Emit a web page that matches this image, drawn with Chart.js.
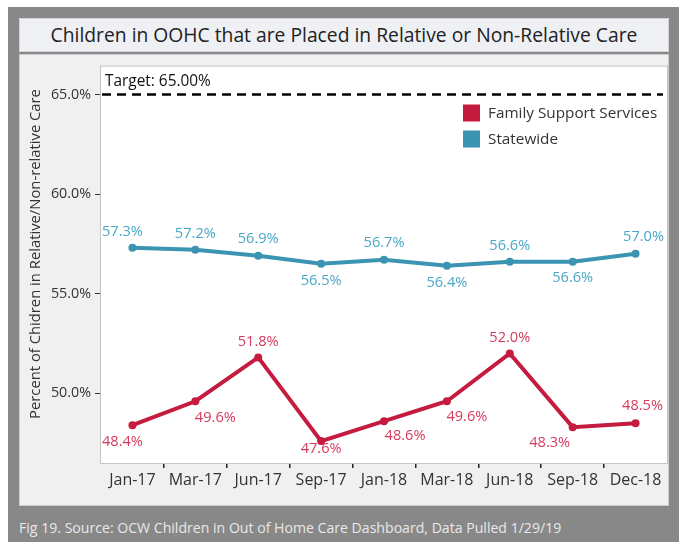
<!DOCTYPE html>
<html>
<head>
<meta charset="utf-8">
<script src="https://cdn.jsdelivr.net/npm/chart.js@4/dist/chart.umd.min.js"></script>
<style>
  html, body { margin: 0; padding: 0; background: #fff; width: 679px; height: 542px; overflow: hidden; }
  #frame { position: absolute; left: 8px; top: 7px; width: 671px; height: 535px; background: #888888; }
  #title {
    position: absolute; left: 19px; top: 18px; width: 650px; height: 34px; box-sizing: border-box;
    background: #eef0f4; border: 1px solid #d2d4d8;
    font-family: 'Open Sans', sans-serif; font-size: 19.3px; color: #222; text-align: center; line-height: 31px;
  }
  #box { position: absolute; left: 19px; top: 54px; width: 650px; height: 452px; box-sizing: border-box;
    background: #f0f0f0; border: 1px solid #cdcdcd; }
  #chart { position: absolute; left: 19px; top: 54px; }
  #foot { position: absolute; left: 19px; top: 518px; font-family: 'Open Sans', sans-serif; font-size: 14.1px; color: #e8e8e8; }
</style>
</head>
<body>
<div id="frame"></div>
<div id="title">Children in OOHC that are Placed in Relative or Non-Relative Care</div>
<div id="box"></div>
<canvas id="chart" width="650" height="452"></canvas>
<div id="foot">Fig 19. Source: OCW Children in Out of Home Care Dashboard, Data Pulled 1/29/19</div>
<script>
// Quarterly share of children in out-of-home care placed with relatives / non-relatives
const months = ['Jan-17', 'Mar-17', 'Jun-17', 'Sep-17', 'Jan-18', 'Mar-18', 'Jun-18', 'Sep-18', 'Dec-18'];
const familySupport = [48.4, 49.6, 51.8, 47.6, 48.6, 49.6, 52.0, 48.3, 48.5];
const statewide = [57.3, 57.2, 56.9, 56.5, 56.7, 56.4, 56.6, 56.6, 57.0];
const seriesNames = ['Family Support Services', 'Statewide'];
const yTicks = [50, 55, 60, 65];
const targetValue = 65;
const yTitle = 'Percent of Chidren in Relative/Non-relative Care';

// styling
const FONT = "'Open Sans', sans-serif";
const RED = '#c41b3f', RED_TEXT = '#d63a5c';
const BLUE = '#3a94b2', BLUE_TEXT = '#4aa7c7';
// label placement (dx, dy from each point)
const redLabelOffsets = [[-10, 17], [20, 17], [0, -16], [0, 8], [21, 15], [20, 16], [0, -16], [-23, 16], [7, -17]];
const blueLabelOffsets = [[-10, -16], [0, -16], [0, -17], [0, 17], [0, -17], [0, 17], [0, -16], [0, 16], [8, -17]];

const plotFrame = {
  id: 'plotFrame',
  beforeDatasetsDraw(chart) {
    const { ctx, chartArea: a, scales } = chart;
    ctx.save();
    ctx.fillStyle = '#ffffff';
    ctx.fillRect(a.left, a.top, a.right - a.left, a.bottom - a.top);
    ctx.strokeStyle = '#c4c4c4';
    ctx.lineWidth = 1;
    ctx.strokeRect(a.left - 0.5, a.top - 0.5, a.right - a.left + 1, a.bottom - a.top + 1);
    // target reference line
    const y = scales.y.getPixelForValue(targetValue);
    ctx.strokeStyle = '#000';
    ctx.lineWidth = 2.5;
    ctx.setLineDash([9, 6]);
    ctx.beginPath();
    ctx.moveTo(a.left + 1, y);
    ctx.lineTo(a.right - 4, y);
    ctx.stroke();
    ctx.setLineDash([]);
    ctx.fillStyle = '#111';
    ctx.font = '15.4px ' + FONT;
    ctx.textAlign = 'left';
    ctx.textBaseline = 'middle';
    ctx.fillText('Target: ' + targetValue.toFixed(2) + '%', a.left + 4, y - 13);
    ctx.restore();
  }
};

const pointLabels = {
  id: 'pointLabels',
  afterDatasetsDraw(chart) {
    const { ctx } = chart;
    ctx.save();
    ctx.font = '14.6px ' + FONT;
    ctx.textAlign = 'center';
    ctx.textBaseline = 'middle';
    chart.data.datasets.forEach((ds, di) => {
      const meta = chart.getDatasetMeta(di);
      ctx.fillStyle = ds.labelColor;
      meta.data.forEach((pt, i) => {
        const off = ds.labelOffsets[i];
        ctx.fillText(ds.data[i].toFixed(1) + '%', pt.x + off[0], pt.y + off[1]);
      });
    });
    ctx.restore();
  }
};

const sideText = {
  id: 'sideText',
  afterDraw(chart) {
    const { ctx } = chart;
    ctx.save();
    // legend
    ctx.font = '15.3px ' + FONT;
    ctx.textAlign = 'left';
    ctx.textBaseline = 'middle';
    chart.data.datasets.forEach((ds, i) => {
      const y = 59 + i * 26;
      ctx.fillStyle = ds.borderColor;
      ctx.fillRect(444, y - 8.5, 17, 17);
      ctx.fillStyle = '#333';
      ctx.fillText(ds.label, 469, y + 1);
    });
    // y-axis title
    ctx.translate(17, 200);
    ctx.rotate(-Math.PI / 2);
    ctx.textAlign = 'center';
    ctx.fillStyle = '#333';
    ctx.font = '14.8px ' + FONT;
    ctx.fillText(yTitle, 0, 0);
    ctx.restore();
  }
};

new Chart(document.getElementById('chart'), {
  type: 'line',
  data: {
    labels: months,
    datasets: [
      { label: seriesNames[0], data: familySupport, borderColor: RED, backgroundColor: RED,
        pointBackgroundColor: RED, pointBorderColor: RED, labelColor: RED_TEXT, labelOffsets: redLabelOffsets },
      { label: seriesNames[1], data: statewide, borderColor: BLUE, backgroundColor: BLUE,
        pointBackgroundColor: BLUE, pointBorderColor: BLUE, labelColor: BLUE_TEXT, labelOffsets: blueLabelOffsets }
    ]
  },
  options: {
    responsive: false,
    animation: false,
    layout: { autoPadding: false, padding: { top: 11, right: 2, left: 0, bottom: 0 } },
    elements: {
      line: { borderWidth: 4, tension: 0 },
      point: { radius: 4, borderWidth: 0, hoverRadius: 4 }
    },
    plugins: { legend: { display: false }, title: { display: false }, tooltip: { enabled: false } },
    scales: {
      x: {
        offset: true,
        afterFit(s) { s.height = 43; },
        border: { display: false },
        grid: {
          offset: true, drawOnChartArea: false, drawTicks: true, tickLength: 5, lineWidth: 1.5,
          color: (c) => (c.index > 0 && c.index < months.length) ? '#222' : 'rgba(0,0,0,0)'
        },
        ticks: { color: '#333', font: { family: FONT, size: 16 }, padding: 3, maxRotation: 0 }
      },
      y: {
        min: 46.5,
        max: 66.4,
        afterFit(s) { s.width = 82; },
        afterBuildTicks(s) { s.ticks = yTicks.map(v => ({ value: v })); },
        border: { display: false },
        grid: { drawOnChartArea: false, drawTicks: true, tickLength: 6, color: '#333', lineWidth: 1 },
        ticks: { color: '#333', font: { family: FONT, size: 14.3 }, padding: 4,
                 callback: (v) => Number(v).toFixed(1) + '%' }
      }
    }
  },
  plugins: [plotFrame, pointLabels, sideText]
});
</script>
</body>
</html>
